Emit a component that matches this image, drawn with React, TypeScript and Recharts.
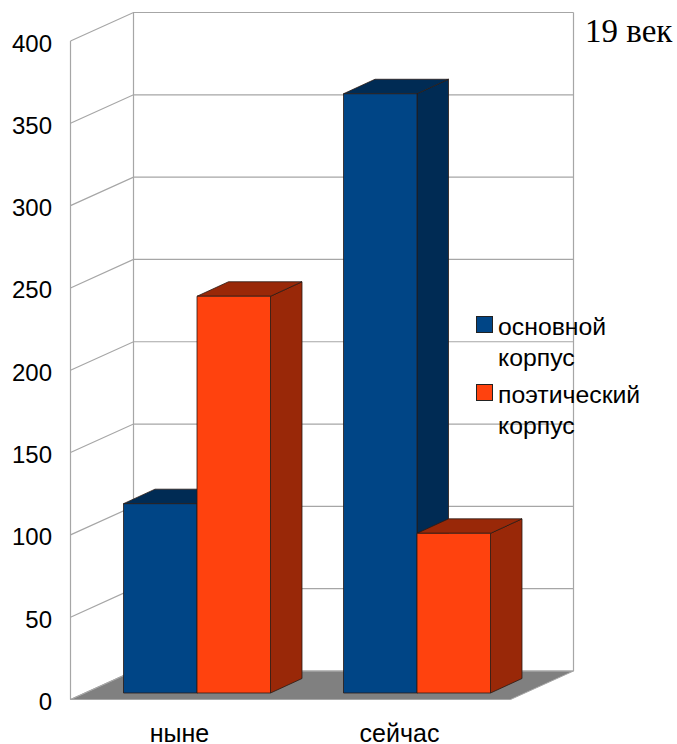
import { BarChart, Bar, XAxis, YAxis, Legend, ReferenceArea, ReferenceLine } from 'recharts';

const categories = ['ныне', 'сейчас'];
const mainCorpus = [115, 364];
const poeticCorpus = [241, 97];
const yTicks = [0, 50, 100, 150, 200, 250, 300, 350, 400];

const data = categories.map((name, i) => ({
  name,
  main: mainCorpus[i],
  poetic: poeticCorpus[i],
}));

const FONT = '"Liberation Sans", Arial, sans-serif';
const GRID = '#a6a6a6';

// 3d look: walls are shifted from the plane the bars stand on
const frontLeft = 70.5;
const backLeft = 133.5;
const backRight = 573.5;
const frontDy = 6.5;
const backDy = -22;
const depthX = 31.5;
const depthY = 14.5;

function Box(props: any, front: string, dark: string) {
  const { x, y, width, height } = props;
  const pts = (a: number[][]) => a.map((p) => p.join(',')).join(' ');
  return (
    <g stroke="#2a1a14" strokeWidth={0.8} strokeLinejoin="round">
      <polygon
        fill={dark}
        points={pts([
          [x + width, y],
          [x + width + depthX, y - depthY],
          [x + width + depthX, y + height - depthY],
          [x + width, y + height],
        ])}
      />
      <polygon
        fill={dark}
        points={pts([
          [x, y],
          [x + depthX, y - depthY],
          [x + width + depthX, y - depthY],
          [x + width, y],
        ])}
      />
      <rect x={x} y={y} width={width} height={height} fill={front} />
    </g>
  );
}

function Walls(props: any) {
  const { y, height } = props;
  const top = y;
  const bottom = y + height;
  return (
    <g>
      <polygon
        fill="#808080"
        stroke="#a6a6a6"
        strokeWidth={1}
        points={`${frontLeft},${bottom + frontDy} ${backLeft},${bottom + backDy} ${backRight},${bottom + backDy} ${backRight - (backLeft - frontLeft)},${bottom + frontDy}`}
      />
      <line x1={frontLeft} x2={frontLeft} y1={top + frontDy} y2={bottom + frontDy} stroke={GRID} strokeWidth={1.2} />
      <line x1={backLeft} x2={backLeft} y1={top + backDy} y2={bottom + backDy} stroke={GRID} strokeWidth={1.2} />
      <line x1={backRight} x2={backRight} y1={top + backDy} y2={bottom + backDy} stroke={GRID} strokeWidth={1.2} />
    </g>
  );
}

function GridLine(props: any) {
  const yy = props.y1;
  return (
    <g stroke={GRID} strokeWidth={1.2} fill="none">
      <polyline points={`${frontLeft},${yy + frontDy} ${backLeft},${yy + backDy} ${backRight},${yy + backDy}`} />
    </g>
  );
}

function YTick(props: any) {
  return (
    <text x={52} y={props.y + 17} textAnchor="end" fontFamily={FONT} fontSize={24} fill="#000">
      {props.payload.value}
    </text>
  );
}

function XTick(props: any) {
  return (
    <text x={props.x - 17} y={742} textAnchor="middle" fontFamily={FONT} fontSize={25} fill="#000">
      {props.payload.value}
    </text>
  );
}

function LegendBox(props: any) {
  return (
    <div style={{ fontFamily: FONT, fontSize: 24.8, lineHeight: '31px', color: '#000' }}>
      {props.payload.map((item: any) => (
        <div key={item.value} style={{ position: 'relative', paddingLeft: 22, width: 150, marginBottom: 6 }}>
          <span
            style={{
              position: 'absolute',
              left: 0,
              top: 5,
              width: 15,
              height: 15,
              background: item.color,
              border: '1px solid #222',
            }}
          />
          {item.value}
        </div>
      ))}
    </div>
  );
}

export default function App() {
  return (
    <div style={{ position: 'absolute', left: 0, top: 0, width: 677, height: 744 }}>
      <BarChart
        width={677}
        height={744}
        data={data}
        margin={{ top: 34.5, right: 0, bottom: 0, left: 0 }}
        barSize={73.5}
        barGap={0}
      >
        <XAxis dataKey="name" height={51} axisLine={false} tickLine={false} tick={XTick} interval={0} />
        <YAxis width={86.5} domain={[0, 400]} ticks={yTicks} axisLine={false} tickLine={false} tick={YTick} interval={0} />
        <ReferenceArea y1={0} y2={400} shape={Walls} ifOverflow="visible" zIndex={50} />
        {yTicks.map((t) => (
          <ReferenceLine key={t} y={t} shape={GridLine} ifOverflow="visible" zIndex={60} />
        ))}
        <Bar
          dataKey="main"
          name="основной корпус"
          fill="#004586"
          isAnimationActive={false}
          shape={(p: any) => Box(p, '#004586', '#002b54')}
        />
        <Bar
          dataKey="poetic"
          name="поэтический корпус"
          fill="#ff420e"
          isAnimationActive={false}
          shape={(p: any) => Box(p, '#ff420e', '#992808')}
        />
        <Legend
          layout="vertical"
          align="right"
          verticalAlign="top"
          width={150.5}
          content={LegendBox}
          wrapperStyle={{ left: 476, top: 311, width: 150.5, height: 130, right: 'auto', bottom: 'auto' }}
        />
      </BarChart>
      <div
        style={{
          position: 'absolute',
          left: 585,
          top: 12,
          fontFamily: '"Liberation Serif", serif',
          fontSize: 33,
          lineHeight: '38px',
          color: '#000',
        }}
      >
        19 век
      </div>
    </div>
  );
}
